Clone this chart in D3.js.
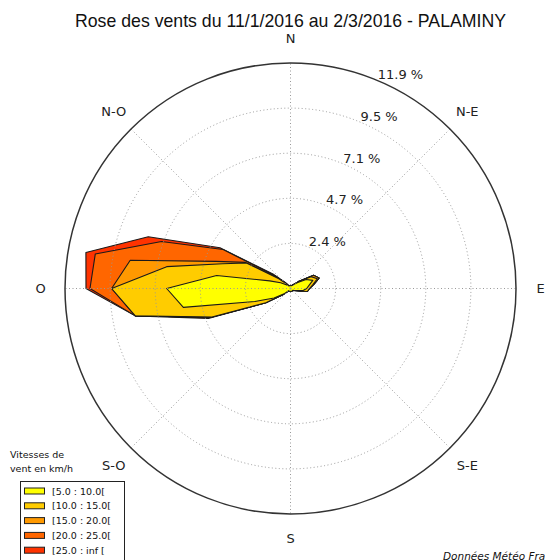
<!DOCTYPE html>
<html><head><meta charset="utf-8">
<script src="https://cdn.jsdelivr.net/npm/d3@7/dist/d3.min.js"></script>
<style>body{margin:0;background:#fff}svg{display:block}</style>
</head><body>
<script>
// ---- data ----
const title = "Rose des vents du 11/1/2016 au 2/3/2016 - PALAMINY";
const directions = d3.range(0, 360, 10); // compass degrees, 36 sectors
const dirLabels = ["N", "N-E", "E", "S-E", "S", "S-O", "O", "N-O"];
const dirLabelAngles = [0, 45, 90, 135, 180, 225, 270, 315];
const classNames = ["[5.0 : 10.0[", "[10.0 : 15.0[", "[15.0 : 20.0[", "[20.0 : 25.0[", "[25.0 : inf ["];
const classColors = ["#ffff00", "#ffcc00", "#ff9900", "#ff6600", "#ff3300"];
const tickValues = [2.375, 4.75, 7.125, 9.5, 11.875];
const tickLabels = ["2.4 %", "4.7 %", "7.1 %", "9.5 %", "11.9 %"];
// frequency (%) per class, one value per 10° sector (0,10,...,350)
const speed5to10 = [0.15,0.15,0.15,0.2,0.3,0.5,0.95,1.25,1.0,0.85,0.65,0.3,0.2,0.15,0.15,0.15,0.15,0.15,
                    0.15,0.15,0.15,0.15,0.15,0.4,1.0,2.0,5.73,6.52,3.95,1.17,0.6,0.3,0.2,0.15,0.15,0.15];
const speed10to15 = [0,0,0,0,0,0.1,0.3,0.25,0.2,0.15,0.25,0.05,0,0,0,0,0,0,
                     0,0,0,0,0,0.1,0.5,2.4,2.57,2.9,2.67,2.63,2.08,0.5,0.1,0,0,0];
const speed15to20 = [0,0,0,0,0,0,0.15,0.1,0.05,0,0,0,0,0,0,0,0,0,
                     0,0,0,0,0,0,0,0,0,0,1.95,0.37,0.07,0.1,0,0,0,0];
const speed20to25 = [0,0,0,0,0,0,0,0,0,0,0,0,0,0,0,0,0,0,
                     0,0,0,0,0,0,0,0,0,1.14,1.87,3.06,1.35,0.1,0.05,0,0,0];
const speed25plus = [0,0,0,0,0,0,0,0,0,0,0,0,0,0,0,0,0,0,
                     0,0,0,0,0,0,0,0.2,0,0.21,0.5,0.74,0.19,0.14,0.05,0,0,0];
const series = [speed5to10, speed10to15, speed15to20, speed20to25, speed25plus];
const footer = "Données Météo France";

// ---- layout ----
const W = 545, H = 560;
const cx = 290.5, cy = 288.5, R = 225.5;
const svg = d3.select("body").append("svg").attr("width", W).attr("height", H);

svg.append("text").attr("x", 290.5).attr("y", 27).attr("text-anchor", "middle")
  .style("font-family", "'Liberation Sans', Arial, sans-serif").style("font-size", "17.7px")
  .attr("fill", "#111").text(title);

const g = svg.append("g").attr("transform", `translate(${cx},${cy})`);
const r = d3.scaleLinear().domain([0, 11.875]).range([0, R]);
const rad = d => d * Math.PI / 180;

// cumulative series
const cumul = [];
let acc = directions.map(() => 0);
series.forEach(s => { acc = acc.map((v, i) => v + s[i]); cumul.push(acc.slice()); });

const line = d3.lineRadial()
  .angle((d, i) => rad(directions[i]))
  .radius(d => r(d))
  .curve(d3.curveLinearClosed);

// draw from outermost class to innermost
for (let k = cumul.length - 1; k >= 0; k--) {
  g.append("path").attr("d", line(cumul[k]))
    .attr("fill", classColors[k]).attr("stroke", "#1a1a1a").attr("stroke-width", 1.1)
    .attr("stroke-linejoin", "round");
}

// grid (on top)
tickValues.slice(0, -1).forEach(t => {
  g.append("circle").attr("r", r(t)).attr("fill", "none")
    .attr("stroke", "#999").attr("stroke-width", 1).attr("stroke-dasharray", "1,2.5");
});
dirLabelAngles.forEach(a => {
  g.append("line").attr("x1", 0).attr("y1", 0)
    .attr("x2", Math.sin(rad(a)) * R).attr("y2", -Math.cos(rad(a)) * R)
    .attr("stroke", "#999").attr("stroke-width", 1).attr("stroke-dasharray", "1,2.5");
});
g.append("circle").attr("r", R).attr("fill", "none").attr("stroke", "#333").attr("stroke-width", 1.5);

// radial tick labels at 22.5°
tickValues.forEach((t, i) => {
  g.append("text")
    .attr("x", Math.sin(rad(22.5)) * r(t) + 1).attr("y", -Math.cos(rad(22.5)) * r(t) - 1)
    .style("font-family", "'DejaVu Sans', sans-serif").style("font-size", "13px")
    .attr("fill", "#222").text(tickLabels[i]);
});

// direction labels
dirLabels.forEach((l, i) => {
  const a = rad(dirLabelAngles[i]);
  g.append("text").attr("x", Math.sin(a) * 250).attr("y", -Math.cos(a) * 250)
    .attr("text-anchor", "middle").attr("dominant-baseline", "central")
    .style("font-family", "'DejaVu Sans', sans-serif").style("font-size", "13px")
    .attr("fill", "#222").text(l);
});

// legend
const lg = svg.append("g");
lg.append("text").attr("x", 10).attr("y", 458)
  .style("font-family", "'DejaVu Sans', sans-serif").style("font-size", "9.5px").attr("fill", "#111")
  .text("Vitesses de");
lg.append("text").attr("x", 10).attr("y", 472)
  .style("font-family", "'DejaVu Sans', sans-serif").style("font-size", "9.5px").attr("fill", "#111")
  .text("vent en km/h");
lg.append("rect").attr("x", 20.5).attr("y", 481.5).attr("width", 104).attr("height", 90)
  .attr("fill", "#fff").attr("stroke", "#222").attr("stroke-width", 1);
classNames.forEach((n, i) => {
  const y = 491 + i * 14.8;
  lg.append("rect").attr("x", 24.5).attr("y", y - 3).attr("width", 20).attr("height", 6)
    .attr("fill", classColors[i]).attr("stroke", "#222").attr("stroke-width", 1);
  lg.append("text").attr("x", 52).attr("y", y + 3.5)
    .style("font-family", "'DejaVu Sans', sans-serif").style("font-size", "9.5px").attr("fill", "#111")
    .text(n);
});

svg.append("text").attr("x", 443).attr("y", 560)
  .style("font-family", "'DejaVu Sans', sans-serif").style("font-size", "10.5px").style("font-style", "italic")
  .attr("fill", "#111").text(footer);
</script>
</body></html>
